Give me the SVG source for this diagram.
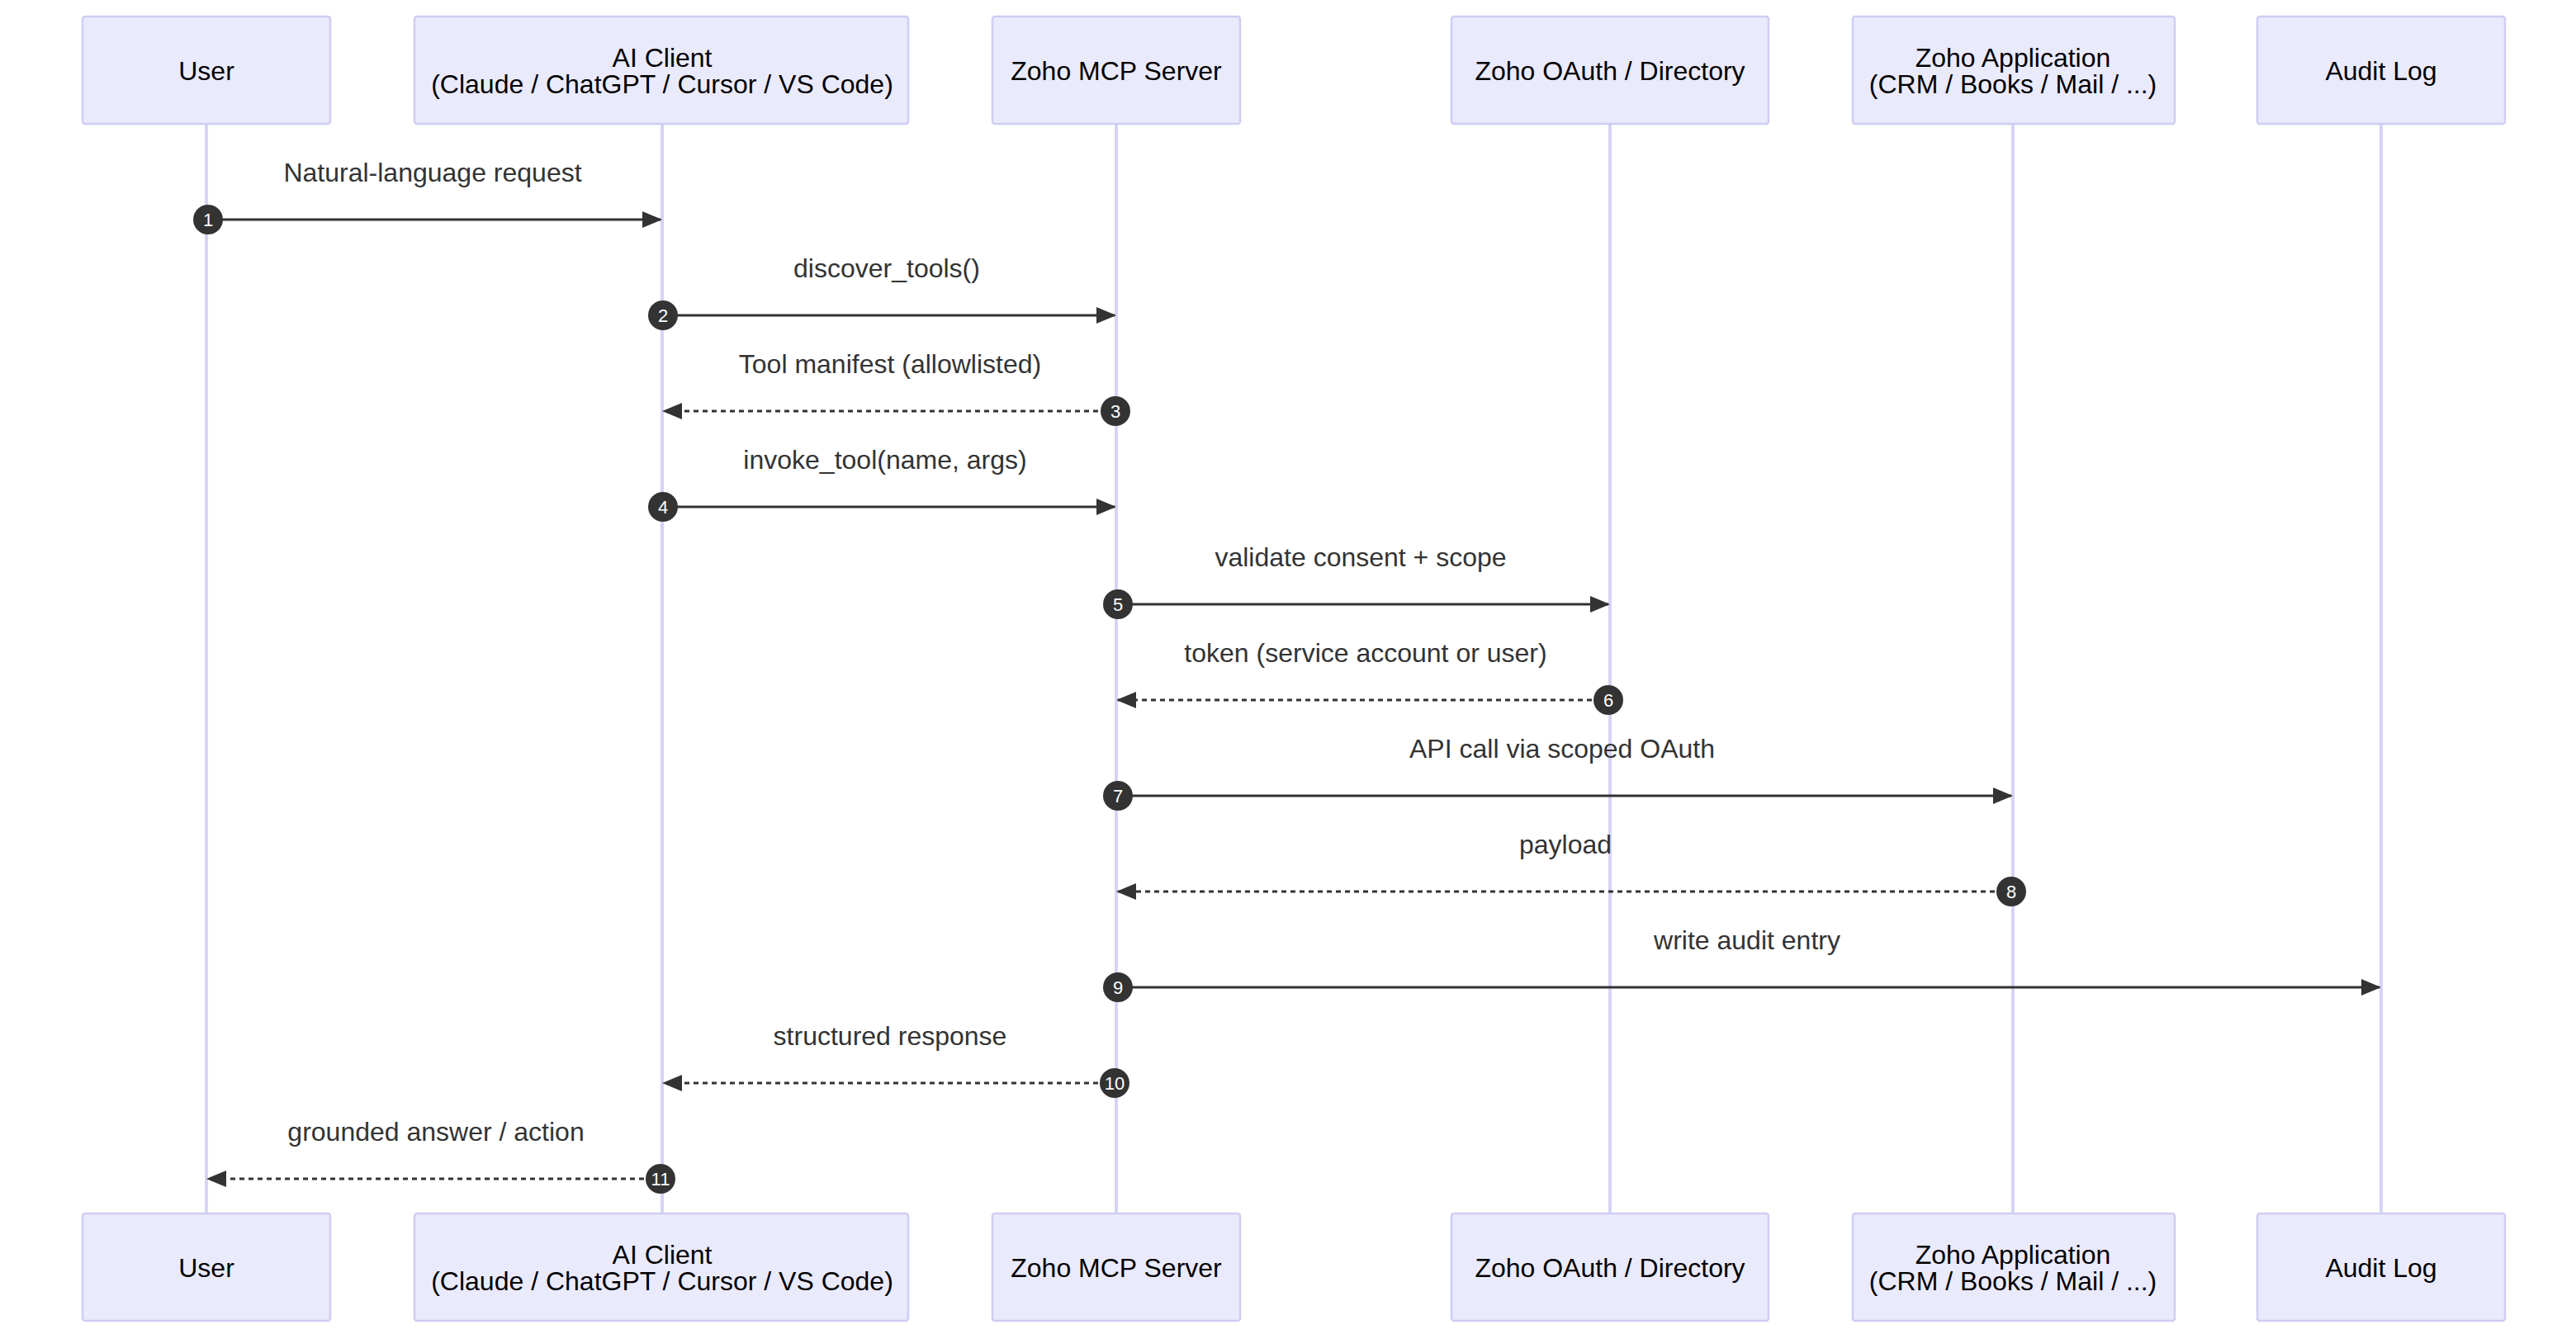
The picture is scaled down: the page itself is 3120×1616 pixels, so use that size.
<svg xmlns="http://www.w3.org/2000/svg" width="3120" height="1616" viewBox="0 0 3120 1616">
<style>
.box{fill:#eaeafd;stroke:#cfcdf3;stroke-width:2.5}
.at{font-family:"Liberation Sans",Arial,sans-serif;font-size:32px;fill:#000;text-anchor:middle}
.life{stroke:#d6d3f5;stroke-width:4}
.msg{stroke:#333;stroke-width:3;fill:none}
.dash{stroke-dasharray:6 5}
.ml{font-family:"Liberation Sans",Arial,sans-serif;font-size:32px;fill:#333;text-anchor:middle}
.num{fill:#333}
.nt{font-family:"Liberation Sans",Arial,sans-serif;font-size:22px;fill:#fff;text-anchor:middle}
</style>
<defs>
<marker id="ar" markerUnits="userSpaceOnUse" markerWidth="24" markerHeight="24" refX="22" refY="12" orient="auto"><path d="M0,2 L24,12 L0,22 Z" fill="#333"/></marker>
</defs>
<rect width="3120" height="1616" fill="#fff"/>
<g id="lifelines">
<line class="life" x1="250" y1="150" x2="250" y2="1470"/>
<line class="life" x1="802" y1="150" x2="802" y2="1470"/>
<line class="life" x1="1352" y1="150" x2="1352" y2="1470"/>
<line class="life" x1="1950" y1="150" x2="1950" y2="1470"/>
<line class="life" x1="2438" y1="150" x2="2438" y2="1470"/>
<line class="life" x1="2884" y1="150" x2="2884" y2="1470"/>
</g>
<g id="user"><rect class="box" x="100" y="20" width="300" height="130" rx="3"/><text class="at" x="250" y="97">User</text>
<rect class="box" x="100" y="1470" width="300" height="130" rx="3"/><text class="at" x="250" y="1547">User</text></g>
<g id="aiclient"><rect class="box" x="502" y="20" width="598" height="130" rx="3"/><text class="at" x="802" y="81">AI Client</text><text class="at" x="802" y="113">(Claude / ChatGPT / Cursor / VS Code)</text>
<rect class="box" x="502" y="1470" width="598" height="130" rx="3"/><text class="at" x="802" y="1531">AI Client</text><text class="at" x="802" y="1563">(Claude / ChatGPT / Cursor / VS Code)</text></g>
<g id="mcp"><rect class="box" x="1202" y="20" width="300" height="130" rx="3"/><text class="at" x="1352" y="97">Zoho MCP Server</text>
<rect class="box" x="1202" y="1470" width="300" height="130" rx="3"/><text class="at" x="1352" y="1547">Zoho MCP Server</text></g>
<g id="oauth"><rect class="box" x="1758" y="20" width="384" height="130" rx="3"/><text class="at" x="1950" y="97">Zoho OAuth / Directory</text>
<rect class="box" x="1758" y="1470" width="384" height="130" rx="3"/><text class="at" x="1950" y="1547">Zoho OAuth / Directory</text></g>
<g id="app"><rect class="box" x="2244" y="20" width="390" height="130" rx="3"/><text class="at" x="2438" y="81">Zoho Application</text><text class="at" x="2438" y="113">(CRM / Books / Mail / ...)</text>
<rect class="box" x="2244" y="1470" width="390" height="130" rx="3"/><text class="at" x="2438" y="1531">Zoho Application</text><text class="at" x="2438" y="1563">(CRM / Books / Mail / ...)</text></g>
<g id="audit"><rect class="box" x="2734" y="20" width="300" height="130" rx="3"/><text class="at" x="2884" y="97">Audit Log</text>
<rect class="box" x="2734" y="1470" width="300" height="130" rx="3"/><text class="at" x="2884" y="1547">Audit Log</text></g>
<g id="connectors">
<line class="msg" x1="250" y1="266" x2="800" y2="266" marker-end="url(#ar)"/>
<text class="ml" x="524" y="220">Natural-language request</text>
<line class="msg" x1="802" y1="382" x2="1350" y2="382" marker-end="url(#ar)"/>
<text class="ml" x="1074" y="336">discover_tools()</text>
<line class="msg dash" x1="1352" y1="498" x2="804" y2="498" marker-end="url(#ar)"/>
<text class="ml" x="1078" y="452">Tool manifest (allowlisted)</text>
<line class="msg" x1="802" y1="614" x2="1350" y2="614" marker-end="url(#ar)"/>
<text class="ml" x="1072" y="568">invoke_tool(name, args)</text>
<line class="msg" x1="1352" y1="732" x2="1948" y2="732" marker-end="url(#ar)"/>
<text class="ml" x="1648" y="686">validate consent + scope</text>
<line class="msg dash" x1="1950" y1="848" x2="1354" y2="848" marker-end="url(#ar)"/>
<text class="ml" x="1654" y="802">token (service account or user)</text>
<line class="msg" x1="1352" y1="964" x2="2436" y2="964" marker-end="url(#ar)"/>
<text class="ml" x="1892" y="918">API call via scoped OAuth</text>
<line class="msg dash" x1="2438" y1="1080" x2="1354" y2="1080" marker-end="url(#ar)"/>
<text class="ml" x="1896" y="1034">payload</text>
<line class="msg" x1="1352" y1="1196" x2="2882" y2="1196" marker-end="url(#ar)"/>
<text class="ml" x="2116" y="1150">write audit entry</text>
<line class="msg dash" x1="1352" y1="1312" x2="804" y2="1312" marker-end="url(#ar)"/>
<text class="ml" x="1078" y="1266">structured response</text>
<line class="msg dash" x1="802" y1="1428" x2="252" y2="1428" marker-end="url(#ar)"/>
<text class="ml" x="528" y="1382">grounded answer / action</text>
<circle class="num" cx="252" cy="266" r="18"/><text class="nt" x="252" y="274">1</text>
<circle class="num" cx="803" cy="382" r="18"/><text class="nt" x="803" y="390">2</text>
<circle class="num" cx="1351" cy="498" r="18"/><text class="nt" x="1351" y="506">3</text>
<circle class="num" cx="803" cy="614" r="18"/><text class="nt" x="803" y="622">4</text>
<circle class="num" cx="1354" cy="732" r="18"/><text class="nt" x="1354" y="740">5</text>
<circle class="num" cx="1948" cy="848" r="18"/><text class="nt" x="1948" y="856">6</text>
<circle class="num" cx="1354" cy="964" r="18"/><text class="nt" x="1354" y="972">7</text>
<circle class="num" cx="2436" cy="1080" r="18"/><text class="nt" x="2436" y="1088">8</text>
<circle class="num" cx="1354" cy="1196" r="18"/><text class="nt" x="1354" y="1204">9</text>
<circle class="num" cx="1350" cy="1312" r="18"/><text class="nt" x="1350" y="1320">10</text>
<circle class="num" cx="800" cy="1428" r="18"/><text class="nt" x="800" y="1436">11</text>
</g>
</svg>
